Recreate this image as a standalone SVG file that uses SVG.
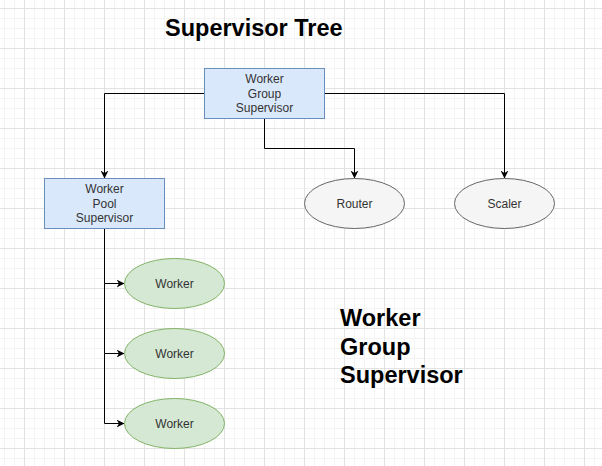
<svg xmlns="http://www.w3.org/2000/svg" width="602" height="466" viewBox="0 0 602 466">
<defs>
<pattern id="grid" patternUnits="userSpaceOnUse" x="24" y="8" width="40" height="40">
<rect x="10" y="0" width="1" height="40" fill="#f3f3f3"/>
<rect x="20" y="0" width="1" height="40" fill="#f3f3f3"/>
<rect x="30" y="0" width="1" height="40" fill="#f3f3f3"/>
<rect x="0" y="10" width="40" height="1" fill="#f3f3f3"/>
<rect x="0" y="20" width="40" height="1" fill="#f3f3f3"/>
<rect x="0" y="30" width="40" height="1" fill="#f3f3f3"/>
<rect x="0" y="0" width="1" height="40" fill="#e2e2e2"/>
<rect x="0" y="0" width="40" height="1" fill="#e2e2e2"/>
</pattern>
<marker id="arr" viewBox="0 0 10 10" refX="10" refY="5" markerWidth="8" markerHeight="8" markerUnits="userSpaceOnUse" orient="auto">
<path d="M0,0 L10,5 L0,10 L3,5 Z" fill="#000"/>
</marker>
</defs>
<style>
.sup{fill:#dae8fc;stroke:#6c8ebf;stroke-width:1}
.wk{fill:#d5e8d4;stroke:#82b366;stroke-width:1}
.gr{fill:#f5f5f5;stroke:#666666;stroke-width:1}
.lbl{font-family:"Liberation Sans",Arial,sans-serif;font-size:12px;fill:#333333;text-anchor:middle}
.big{font-family:"Liberation Sans",Arial,sans-serif;font-size:23.5px;font-weight:bold;fill:#000}
.edge{fill:none;stroke:#000;stroke-width:1;marker-end:url(#arr)}
</style>
<rect x="0" y="0" width="602" height="466" fill="#ffffff"/>
<rect x="0" y="0" width="602" height="466" fill="url(#grid)"/>

<g id="connectors">
<path class="edge" d="M204.5,93.5 H104.5 V178.5"/>
<path class="edge" d="M264.5,118.5 V148.5 H354.5 V178.5"/>
<path class="edge" d="M324.5,93.5 H504.5 V178.5"/>
<path class="edge" d="M104.5,228.5 V283.5 H124.5"/>
<path class="edge" d="M104.5,283.5 V353.5 H124.5"/>
<path class="edge" d="M104.5,353.5 V423.5 H124.5"/>
</g>

<g id="title">
<text class="big" x="165" y="36">Supervisor Tree</text>
</g>

<g id="worker-group-supervisor">
<rect class="sup" x="204.5" y="68.5" width="120" height="50"/>
<text class="lbl" x="264.5" y="83">Worker</text>
<text class="lbl" x="264.5" y="97.5">Group</text>
<text class="lbl" x="264.5" y="112">Supervisor</text>
</g>

<g id="worker-pool-supervisor">
<rect class="sup" x="44.5" y="178.5" width="120" height="50"/>
<text class="lbl" x="104.5" y="193">Worker</text>
<text class="lbl" x="104.5" y="207.5">Pool</text>
<text class="lbl" x="104.5" y="222">Supervisor</text>
</g>

<g id="router">
<ellipse class="gr" cx="354.5" cy="203.5" rx="50" ry="25"/>
<text class="lbl" x="354.5" y="208">Router</text>
</g>

<g id="scaler">
<ellipse class="gr" cx="504.5" cy="203.5" rx="50" ry="25"/>
<text class="lbl" x="504.5" y="208">Scaler</text>
</g>

<g id="worker1">
<ellipse class="wk" cx="174.5" cy="283.5" rx="50" ry="25"/>
<text class="lbl" x="174.5" y="288">Worker</text>
</g>

<g id="worker2">
<ellipse class="wk" cx="174.5" cy="353.5" rx="50" ry="25"/>
<text class="lbl" x="174.5" y="358">Worker</text>
</g>

<g id="worker3">
<ellipse class="wk" cx="174.5" cy="423.5" rx="50" ry="25"/>
<text class="lbl" x="174.5" y="428">Worker</text>
</g>

<g id="caption">
<text class="big" x="340" y="326">Worker</text>
<text class="big" x="340" y="354.5">Group</text>
<text class="big" x="340" y="383">Supervisor</text>
</g>
</svg>
